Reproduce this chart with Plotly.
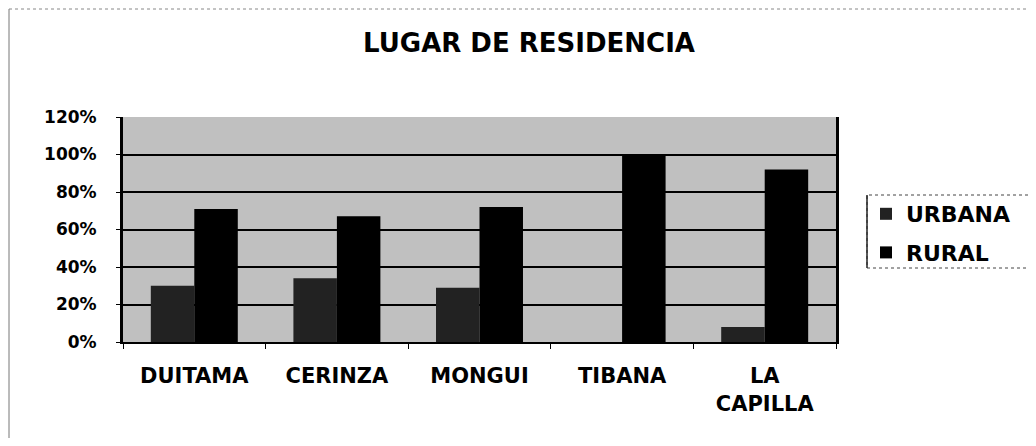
import plotly.graph_objects as go

categories = ["DUITAMA", "CERINZA", "MONGUI", "TIBANA", "LA<br>CAPILLA"]
urbana = [0.30, 0.34, 0.29, 0.0, 0.08]
rural = [0.71, 0.67, 0.72, 1.00, 0.92]
series_names = ["URBANA", "RURAL"]
y_ticks = [0, 0.2, 0.4, 0.6, 0.8, 1.0, 1.2]

FONT = "DejaVu Sans"

# plot area in page pixels (page has an 8px body margin)
PL, PR, PT, PB = 123, 836, 117, 342
PW, PH = PR - PL, PB - PT
OFF = 8
FW, FH = 1020, 430


def px(x):
    return (x - PL) / PW


def py(y):
    return (PB - y) / PH


fig = go.Figure()
fig.add_trace(go.Bar(x=categories, y=urbana, name=series_names[0],
                     marker=dict(color="#222222", line=dict(width=0)),
                     legendgroup="u"))
fig.add_trace(go.Bar(x=categories, y=rural, name=series_names[1],
                     marker=dict(color="#000000", line=dict(width=0)),
                     legendgroup="r"))

fig.update_layout(
    width=FW, height=FH, autosize=False,
    margin=dict(l=PL - OFF, r=FW - (PR - OFF), t=PT - OFF, b=FH - (PB - OFF)),
    paper_bgcolor="white",
    plot_bgcolor="#c0c0c0",
    barmode="group", bargap=0.39, bargroupgap=0,
    showlegend=True,
    title=dict(text="LUGAR DE RESIDENCIA", x=(529 - OFF) / FW, xanchor="center",
               y=1 - (43 - OFF) / FH, yanchor="middle",
               font=dict(family=FONT, size=26, color="black", weight="bold")),
    legend=dict(x=px(866), xanchor="left", y=py(193), yanchor="top",
                font=dict(family=FONT, size=22, color="black", weight="bold"),
                bgcolor="rgba(0,0,0,0)", borderwidth=0,
                tracegroupgap=7, itemclick=False),
    font=dict(family=FONT, color="black"),
)

fig.update_xaxes(
    type="category", showgrid=False, showline=True, linecolor="black",
    linewidth=2, mirror=False, ticks="outside", tickson="boundaries",
    ticklen=5, tickcolor="black", tickwidth=1,
    tickfont=dict(family=FONT, size=21, color="black", weight="bold"),
    ticklabelstandoff=14,
)
fig.update_yaxes(
    range=[0, 1.2], tickvals=y_ticks, tickformat=".0%",
    showgrid=True, gridcolor="black", gridwidth=2,
    showline=True, linecolor="black", linewidth=3, mirror=True,
    ticks="outside", ticklen=4, tickcolor="black",
    tickfont=dict(family=FONT, size=17, color="black", weight="bold"),
    ticklabelstandoff=16, zeroline=False,
)

# legend frame and page border (scan edges)
fig.add_shape(type="rect", xref="paper", yref="paper",
              x0=px(867), x1=px(1040), y0=py(268), y1=py(195),
              line=dict(color="#444444", width=1, dash="dot"))
fig.add_shape(type="line", xref="paper", yref="paper",
              x0=px(867), x1=px(867), y0=py(268), y1=py(195),
              line=dict(color="#222222", width=1.5))
fig.add_shape(type="line", xref="paper", yref="paper",
              x0=px(9), x1=px(9), y0=py(446), y1=py(9),
              line=dict(color="#777777", width=1))
fig.add_shape(type="line", xref="paper", yref="paper",
              x0=px(9), x1=px(1036), y0=py(9), y1=py(9),
              line=dict(color="#888888", width=1, dash="dot"))

fig.write_html("out.html")
